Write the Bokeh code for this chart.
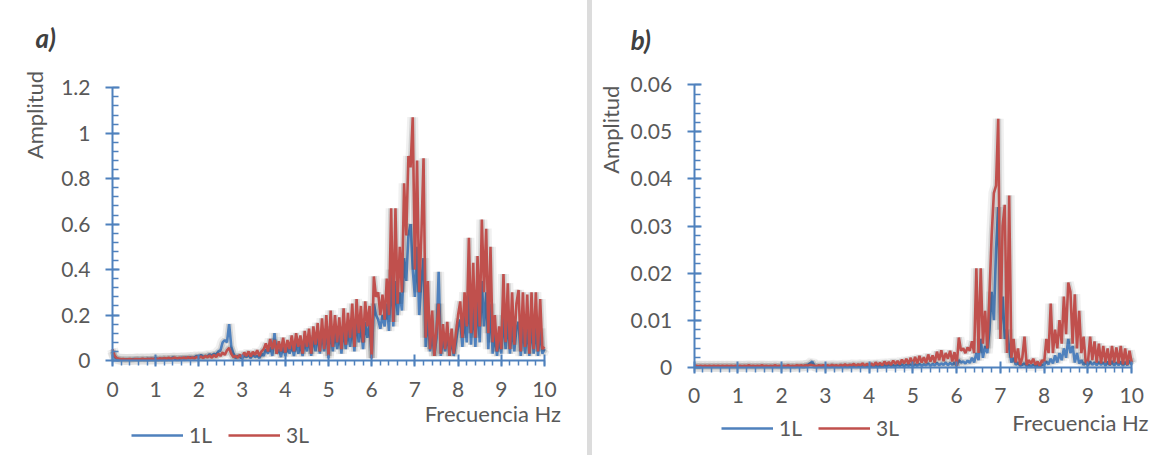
import numpy as np
from bokeh.plotting import figure
from bokeh.layouts import row
from bokeh.models import (Range1d, FixedTicker, CustomJSTickFormatter,
                          Label, Legend, LegendItem, Div)
from bokeh.embed import file_html
from bokeh.resources import INLINE

# ---------------- data ----------------
FREQ = [round(i * 0.05, 2) for i in range(201)]   # Hz, 0 .. 10
X_TICKS = list(range(0, 11))
A_Y_TICKS = [0, 0.2, 0.4, 0.6, 0.8, 1.0, 1.2]
B_Y_TICKS = [0, 0.01, 0.02, 0.03, 0.04, 0.05, 0.06]
SERIES = ["1L", "3L"]
PANEL_TITLES = ["a)", "b)"]
X_LABEL = "Frecuencia Hz"
Y_LABEL = "Amplitud"

# panel a) – 3L
A3_0 = [0.05, 0.02, 0.01, 0.008, 0.005, 0.006, 0.004, 0.005, 0.006, 0.004, 0.005, 0.007, 0.005, 0.006, 0.008, 0.005, 0.007, 0.006, 0.008, 0.006]
A3_1 = [0.009, 0.006, 0.01, 0.007, 0.011, 0.008, 0.012, 0.007, 0.01, 0.013, 0.008, 0.012, 0.009, 0.014, 0.008, 0.015, 0.01, 0.013, 0.009, 0.016]
A3_2 = [0.012, 0.018, 0.01, 0.02, 0.014, 0.022, 0.012, 0.025, 0.015, 0.03, 0.02, 0.035, 0.025, 0.045, 0.055, 0.03, 0.015, 0.02, 0.012, 0.025]
A3_3 = [0.015, 0.035, 0.02, 0.04, 0.018, 0.038, 0.025, 0.045, 0.02, 0.04, 0.05, 0.075, 0.04, 0.095, 0.05, 0.09, 0.03, 0.085, 0.04, 0.1]
A3_4 = [0.035, 0.09, 0.05, 0.11, 0.04, 0.12, 0.06, 0.11, 0.03, 0.13, 0.06, 0.14, 0.03, 0.15, 0.07, 0.165, 0.04, 0.185, 0.05, 0.2]
A3_5 = [0.02, 0.22, 0.06, 0.2, 0.08, 0.19, 0.05, 0.23, 0.07, 0.21, 0.1, 0.25, 0.06, 0.27, 0.12, 0.24, 0.08, 0.26, 0.15, 0.24]
A3_6 = [0.01, 0.37, 0.28, 0.3, 0.2, 0.29, 0.18, 0.36, 0.2, 0.67, 0.17, 0.67, 0.25, 0.5, 0.3, 0.78, 0.55, 0.9, 0.85, 1.07]
A3_7 = [0.4, 0.88, 0.3, 0.55, 0.89, 0.1, 0.35, 0.05, 0.22, 0.02, 0.14, 0.25, 0.03, 0.16, 0.05, 0.17, 0.02, 0.14, 0.03, 0.12]
A3_8 = [0.2, 0.26, 0.1, 0.3, 0.15, 0.54, 0.12, 0.43, 0.1, 0.46, 0.15, 0.62, 0.3, 0.58, 0.12, 0.5, 0.08, 0.2, 0.04, 0.15]
A3_9 = [0.05, 0.38, 0.08, 0.34, 0.05, 0.3, 0.07, 0.25, 0.31, 0.04, 0.3, 0.06, 0.29, 0.03, 0.3, 0.05, 0.3, 0.04, 0.27, 0.05]
A3_END = [0.06]

# panel a) – 1L
A1_0 = [0.04, 0.015, 0.008, 0.005, 0.004, 0.005, 0.004, 0.005, 0.004, 0.005, 0.006, 0.005, 0.007, 0.005, 0.006, 0.005, 0.007, 0.006, 0.007, 0.006]
A1_1 = [0.012, 0.006, 0.008, 0.007, 0.01, 0.006, 0.009, 0.008, 0.014, 0.007, 0.01, 0.008, 0.012, 0.009, 0.013, 0.01, 0.015, 0.011, 0.014, 0.02]
A1_2 = [0.012, 0.025, 0.015, 0.02, 0.018, 0.028, 0.02, 0.03, 0.025, 0.04, 0.045, 0.08, 0.09, 0.08, 0.16, 0.06, 0.03, 0.01, 0.02, 0.015]
A1_3 = [0.01, 0.02, 0.015, 0.025, 0.01, 0.03, 0.015, 0.02, 0.01, 0.03, 0.02, 0.05, 0.03, 0.06, 0.02, 0.12, 0.03, 0.05, 0.015, 0.06]
A1_4 = [0.02, 0.06, 0.03, 0.07, 0.02, 0.08, 0.03, 0.07, 0.02, 0.09, 0.04, 0.1, 0.02, 0.11, 0.04, 0.12, 0.03, 0.13, 0.04, 0.14]
A1_5 = [0.01, 0.15, 0.04, 0.13, 0.05, 0.12, 0.03, 0.15, 0.05, 0.14, 0.06, 0.16, 0.04, 0.18, 0.08, 0.16, 0.05, 0.17, 0.1, 0.16]
A1_6 = [0.01, 0.25, 0.2, 0.18, 0.14, 0.2, 0.15, 0.25, 0.13, 0.4, 0.15, 0.35, 0.2, 0.3, 0.22, 0.45, 0.35, 0.55, 0.6, 0.4]
A1_7 = [0.28, 0.5, 0.2, 0.35, 0.45, 0.06, 0.2, 0.04, 0.12, 0.02, 0.1, 0.39, 0.02, 0.1, 0.04, 0.12, 0.02, 0.1, 0.02, 0.08]
A1_8 = [0.15, 0.18, 0.06, 0.2, 0.08, 0.3, 0.07, 0.25, 0.06, 0.28, 0.08, 0.35, 0.15, 0.3, 0.05, 0.25, 0.03, 0.12, 0.02, 0.1]
A1_9 = [0.03, 0.2, 0.05, 0.18, 0.03, 0.16, 0.04, 0.14, 0.17, 0.02, 0.16, 0.03, 0.15, 0.02, 0.16, 0.03, 0.15, 0.02, 0.14, 0.03]
A1_END = [0.05]

# panel b) – 3L
B3_0 = [0.0004, 0.0003, 0.0002, 0.0003, 0.0002, 0.0003, 0.0002, 0.0003, 0.0002, 0.0003, 0.0002, 0.0003, 0.0002, 0.0003, 0.0002, 0.0003, 0.0002, 0.0003, 0.0002, 0.0003]
B3_1 = [0.0002, 0.0003, 0.0002, 0.0003, 0.0002, 0.0004, 0.0002, 0.0003, 0.0002, 0.0003, 0.0002, 0.0004, 0.0002, 0.0003, 0.0002, 0.0003, 0.0002, 0.0004, 0.0002, 0.0003]
B3_2 = [0.0002, 0.0003, 0.0002, 0.0004, 0.0002, 0.0003, 0.0002, 0.0004, 0.0003, 0.0004, 0.0002, 0.0004, 0.0003, 0.0005, 0.0004, 0.0003, 0.0002, 0.0004, 0.0003, 0.0004]
B3_3 = [0.0003, 0.0004, 0.0002, 0.0005, 0.0003, 0.0004, 0.0002, 0.0005, 0.0003, 0.0006, 0.0003, 0.0005, 0.0004, 0.0007, 0.0003, 0.0006, 0.0004, 0.0008, 0.0003, 0.0007]
B3_4 = [0.0004, 0.0008, 0.0003, 0.001, 0.0005, 0.0009, 0.0004, 0.0012, 0.0006, 0.0011, 0.0005, 0.0014, 0.0007, 0.0013, 0.0006, 0.0016, 0.0008, 0.0018, 0.0007, 0.002]
B3_5 = [0.0006, 0.0022, 0.0008, 0.0024, 0.001, 0.0021, 0.0009, 0.0027, 0.0012, 0.0025, 0.001, 0.0033, 0.0015, 0.0036, 0.0013, 0.003, 0.0018, 0.0035, 0.0012, 0.0032]
B3_6 = [0.0003, 0.0063, 0.0035, 0.004, 0.003, 0.0042, 0.0035, 0.0055, 0.003, 0.021, 0.003, 0.021, 0.005, 0.012, 0.004, 0.0157, 0.028, 0.037, 0.0386, 0.0528]
B3_7 = [0.006, 0.03, 0.0345, 0.003, 0.0365, 0.002, 0.006, 0.001, 0.004, 0.0005, 0.002, 0.0065, 0.0005, 0.0015, 0.0008, 0.0018, 0.0005, 0.0012, 0.0003, 0.0015]
B3_8 = [0.001, 0.006, 0.003, 0.0135, 0.003, 0.008, 0.004, 0.01, 0.005, 0.015, 0.007, 0.018, 0.016, 0.005, 0.0155, 0.004, 0.012, 0.003, 0.0065, 0.001]
B3_9 = [0.001, 0.0065, 0.0015, 0.0055, 0.001, 0.005, 0.0008, 0.0045, 0.001, 0.004, 0.0005, 0.0045, 0.001, 0.0042, 0.0008, 0.0045, 0.0006, 0.004, 0.0005, 0.0035]
B3_END = [0.001]

# panel b) – 1L
B1_0 = [0.0002, 0.0001, 0.0002, 0.0001, 0.0002, 0.0001, 0.0002, 0.0001, 0.0002, 0.0001, 0.0002, 0.0001, 0.0002, 0.0001, 0.0002, 0.0001, 0.0002, 0.0001, 0.0002, 0.0001]
B1_1 = [0.0002, 0.0001, 0.0002, 0.0001, 0.0002, 0.0001, 0.0002, 0.0001, 0.0002, 0.0001, 0.0002, 0.0001, 0.0002, 0.0001, 0.0002, 0.0001, 0.0002, 0.0001, 0.0002, 0.0001]
B1_2 = [0.0001, 0.0002, 0.0001, 0.0002, 0.0001, 0.0002, 0.0001, 0.0002, 0.0001, 0.0002, 0.0002, 0.0004, 0.0005, 0.0008, 0.0012, 0.0003, 0.0002, 0.0001, 0.0002, 0.0001]
B1_3 = [0.0001, 0.0002, 0.0001, 0.0003, 0.0001, 0.0002, 0.0001, 0.0003, 0.0001, 0.0002, 0.0001, 0.0003, 0.0002, 0.0003, 0.0001, 0.0003, 0.0002, 0.0004, 0.0002, 0.0003]
B1_4 = [0.0002, 0.0003, 0.0002, 0.0004, 0.0002, 0.0003, 0.0002, 0.0004, 0.0002, 0.0005, 0.0003, 0.0004, 0.0002, 0.0005, 0.0003, 0.0006, 0.0002, 0.0005, 0.0003, 0.0006]
B1_5 = [0.0002, 0.0006, 0.0003, 0.0007, 0.0003, 0.0006, 0.0004, 0.0008, 0.0003, 0.0007, 0.0004, 0.0009, 0.0004, 0.0008, 0.0005, 0.001, 0.0004, 0.0009, 0.0005, 0.001]
B1_6 = [0.0003, 0.0015, 0.001, 0.0012, 0.0008, 0.0014, 0.0009, 0.002, 0.001, 0.003, 0.0015, 0.006, 0.002, 0.0045, 0.003, 0.008, 0.016, 0.01, 0.025, 0.034]
B1_7 = [0.008, 0.015, 0.006, 0.008, 0.004, 0.001, 0.002, 0.0005, 0.001, 0.0003, 0.0005, 0.0008, 0.0002, 0.0004, 0.0002, 0.0005, 0.0002, 0.0004, 0.0002, 0.0005]
B1_8 = [0.0005, 0.0012, 0.0006, 0.0018, 0.0008, 0.0025, 0.001, 0.003, 0.0015, 0.004, 0.002, 0.006, 0.003, 0.0045, 0.001, 0.003, 0.0008, 0.0015, 0.0005, 0.001]
B1_9 = [0.0004, 0.0012, 0.0005, 0.001, 0.0004, 0.0011, 0.0005, 0.001, 0.0003, 0.0012, 0.0004, 0.0013, 0.0003, 0.001, 0.0004, 0.0012, 0.0003, 0.0011, 0.0004, 0.0015]
B1_END = [0.0005]

A_3L = A3_0 + A3_1 + A3_2 + A3_3 + A3_4 + A3_5 + A3_6 + A3_7 + A3_8 + A3_9 + A3_END
A_1L = A1_0 + A1_1 + A1_2 + A1_3 + A1_4 + A1_5 + A1_6 + A1_7 + A1_8 + A1_9 + A1_END
B_3L = B3_0 + B3_1 + B3_2 + B3_3 + B3_4 + B3_5 + B3_6 + B3_7 + B3_8 + B3_9 + B3_END
B_1L = B1_0 + B1_1 + B1_2 + B1_3 + B1_4 + B1_5 + B1_6 + B1_7 + B1_8 + B1_9 + B1_END

# ---------------- style ----------------
FONT = "Lato"
BLUE = "#4F81BD"
RED = "#C0504D"
TXT = "#595959"
H = 455


def panel(width, xpix, ypix, y_ticks, y1l, y3l, title, title_pos, ylab_pos, xlab_pos, leg_loc):
    """xpix=(pixel of x=0, pixel of x=10); ypix=(pixel of y=0, pixel of y=max)"""
    x0p, x1p = xpix
    y0p, y1p = ypix
    xs = (x1p - x0p) / (X_TICKS[-1] - X_TICKS[0])
    ys = (y0p - y1p) / y_ticks[-1]
    xr = Range1d(-x0p / xs, X_TICKS[-1] + (width - x1p) / xs)
    yr = Range1d(-(H - y0p) / ys, y_ticks[-1] + y1p / ys)
    step = y_ticks[1] - y_ticks[0]

    p = figure(width=width, height=H, output_backend="svg", toolbar_location=None,
               x_range=xr, y_range=yr, min_border=0)
    p.outline_line_color = None
    p.grid.visible = False
    p.background_fill_color = "white"
    p.border_fill_color = "white"

    p.xaxis.ticker = FixedTicker(ticks=X_TICKS,
                                 minor_ticks=[round(i * 0.2, 2) for i in range(51)])
    p.yaxis.ticker = FixedTicker(ticks=y_ticks,
                                 minor_ticks=[round(i * step / 5, 6) for i in range(31)])
    fmt = CustomJSTickFormatter(code="return String(Number(tick.toFixed(4)));")
    p.xaxis.formatter = fmt
    p.yaxis.formatter = fmt
    p.xaxis.fixed_location = 0
    p.yaxis.fixed_location = 0
    p.xaxis.bounds = (X_TICKS[0], X_TICKS[-1])
    p.yaxis.bounds = (0, y_ticks[-1])
    for ax in (p.xaxis[0], p.yaxis[0]):
        ax.axis_line_color = BLUE
        ax.axis_line_width = 2
        ax.major_tick_line_color = BLUE
        ax.major_tick_line_width = 2
        ax.minor_tick_line_color = BLUE
        ax.minor_tick_line_width = 1.5
        ax.major_label_text_font = FONT
        ax.major_label_text_font_size = "21px"
        ax.major_label_text_color = TXT
    p.xaxis.major_tick_in = 6
    p.xaxis.major_tick_out = 6
    p.xaxis.minor_tick_in = 0
    p.xaxis.minor_tick_out = 5
    p.xaxis.major_label_standoff = 15
    p.yaxis.major_tick_in = 7
    p.yaxis.major_tick_out = 7
    p.yaxis.minor_tick_in = 6
    p.yaxis.minor_tick_out = 0
    p.yaxis.major_label_standoff = 15

    # soft shadow + lines
    p.line(FREQ, y1l, line_color="#000000", line_alpha=0.06, line_width=11)
    p.line(FREQ, y1l, line_color="#000000", line_alpha=0.12, line_width=6)
    r1 = p.line(FREQ, y1l, line_color=BLUE, line_width=2.6)
    p.line(FREQ, y3l, line_color="#000000", line_alpha=0.06, line_width=11)
    p.line(FREQ, y3l, line_color="#000000", line_alpha=0.12, line_width=6)
    r3 = p.line(FREQ, y3l, line_color=RED, line_width=2.6)

    p.add_layout(Label(x=title_pos[0], y=title_pos[1], text=title, text_font=FONT,
                       text_font_size="26px", text_font_style="bold italic",
                       text_color="#404040", text_align="left", text_baseline="middle"))
    p.add_layout(Label(x=ylab_pos[0], y=ylab_pos[1], text=Y_LABEL, text_font=FONT,
                       text_font_size="22px", text_color=TXT, angle=np.pi / 2,
                       text_align="center", text_baseline="middle"))
    p.add_layout(Label(x=xlab_pos[0], y=xlab_pos[1], text=X_LABEL, text_font=FONT,
                       text_font_size="22px", text_color=TXT, text_align="right",
                       text_baseline="middle"))

    leg = Legend(items=[LegendItem(label=SERIES[0], renderers=[r1]),
                        LegendItem(label=SERIES[1], renderers=[r3])],
                 orientation="horizontal", location=leg_loc,
                 glyph_width=52, glyph_height=20, label_height=20, label_standoff=6,
                 spacing=16, padding=0, margin=0, border_line_color=None,
                 background_fill_alpha=0, label_text_font=FONT,
                 label_text_font_size="21px", label_text_color=TXT)
    p.add_layout(leg, "center")
    return p


pa = panel(587, (112, 544), (360, 87.3), A_Y_TICKS, A_1L, A_3L, PANEL_TITLES[0],
           (-1.782, 1.4198), (-1.801, 1.0804), (10.382, -0.233), (131, 8))
pb = panel(572, (101.6, 539.2), (366.7, 84.3), B_Y_TICKS, B_1L, B_3L, PANEL_TITLES[1],
           (-1.4465, 0.069624), (-1.915, 0.05046), (10.384, -0.011686), (129, 15))

divider = Div(width=5, height=H, margin=0, styles={"background-color": "#DCDCDC"})
layout = row(pa, divider, pb, spacing=0)

open("out.html", "w").write(file_html(layout, INLINE))
